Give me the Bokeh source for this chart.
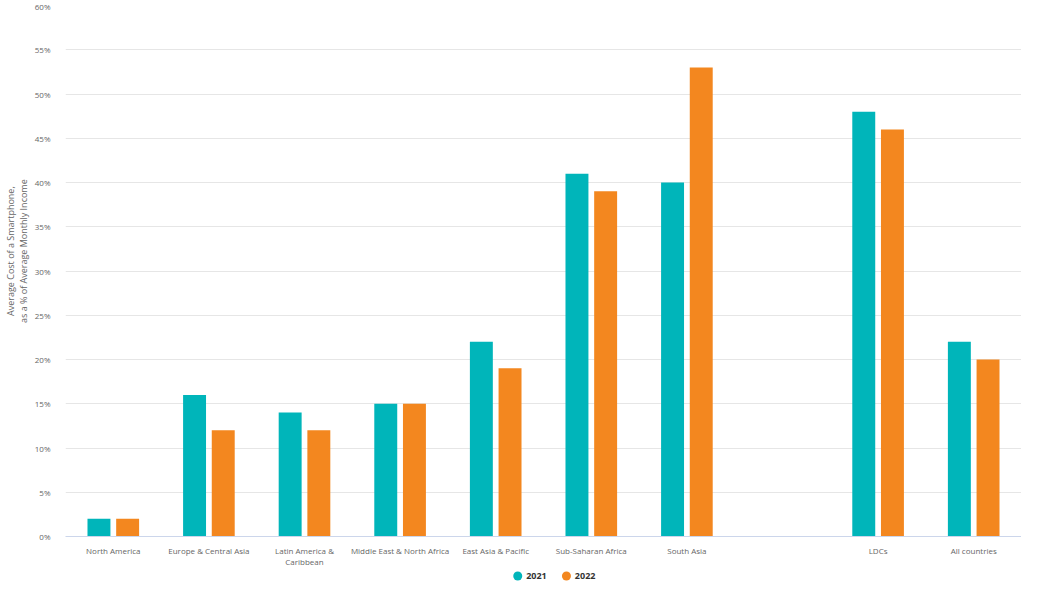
from bokeh.plotting import figure
from bokeh.layouts import column
from bokeh.models import (FactorRange, Range1d, ColumnDataSource, PrintfTickFormatter, FixedTicker)
from bokeh.core.properties import value
from bokeh.transform import dodge
from bokeh.embed import file_html
from bokeh.resources import INLINE

categories = ["North America", "Europe & Central Asia", "Latin America &\nCaribbean",
              "Middle East & North Africa", "East Asia & Pacific", "Sub-Saharan Africa",
              "South Asia", "LDCs", "All countries"]
axis_factors = categories[:7] + [" "] + categories[7:]
values_2021 = [2, 16, 14, 15, 22, 41, 40, 48, 22]
values_2022 = [2, 12, 12, 15, 19, 39, 53, 46, 20]
series_names = ["2021", "2022"]
y_ticks = list(range(0, 61, 5))
y_title_lines = ["Average Cost of a Smartphone,", "as a % of Average Monthly Income"]

TEAL = "#00b5ba"
ORANGE = "#f3871f"
FONT = "Open Sans"
W = 1021
PAD = "\u00a0" * 17  # lifts the rotated title above the frame centre, as in the original

source = ColumnDataSource(dict(cat=categories, v2021=values_2021, v2022=values_2022))

p = figure(width=W, height=569, x_range=FactorRange(*axis_factors),
           y_range=Range1d(0, 60), output_backend="svg", toolbar_location=None,
           min_border_left=60, min_border_right=0, min_border_top=5, min_border_bottom=28)

p.vbar(x=dodge("cat", -0.15, range=p.x_range), top="v2021", width=0.24,
       source=source, color=TEAL, line_color=None)
p.vbar(x=dodge("cat", 0.15, range=p.x_range), top="v2022", width=0.24,
       source=source, color=ORANGE, line_color=None)

p.outline_line_color = None
p.background_fill_color = "white"
p.border_fill_color = "white"

p.xgrid.grid_line_color = None
p.ygrid.grid_line_color = "#e6e6e6"
p.ygrid.grid_line_width = 1

p.yaxis.ticker = FixedTicker(ticks=y_ticks)
p.yaxis.formatter = PrintfTickFormatter(format="%d%%")
p.yaxis.axis_line_color = None
p.yaxis.major_tick_line_color = None
p.yaxis.minor_tick_line_color = None
p.yaxis.major_label_text_font = FONT
p.yaxis.major_label_text_font_size = "8px"
p.yaxis.major_label_text_color = "#666666"
p.yaxis.major_label_standoff = 9
p.yaxis.axis_label = "\n".join(PAD + s for s in y_title_lines)
p.yaxis.axis_label_text_font = FONT
p.yaxis.axis_label_text_font_size = "9px"
p.yaxis.axis_label_text_font_style = "normal"
p.yaxis.axis_label_text_color = "#666666"
p.yaxis.axis_label_text_line_height = 1.0
p.yaxis.axis_label_standoff = 2

p.xaxis.axis_line_color = "#ccd6eb"
p.xaxis.major_tick_line_color = None
p.xaxis.minor_tick_line_color = None
p.xaxis.major_label_text_font = FONT
p.xaxis.major_label_text_font_size = "8px"
p.xaxis.major_label_text_color = "#666666"
p.xaxis.major_label_text_line_height = 1.0
p.xaxis.major_label_standoff = 2

# legend strip drawn as its own small figure below the chart
leg_x = [483, 535]
leg = figure(width=W, height=13, x_range=Range1d(0, W), y_range=Range1d(0, 13),
             output_backend="svg", toolbar_location=None,
             min_border=0, min_border_left=0, min_border_right=0,
             min_border_top=0, min_border_bottom=0)
leg.axis.visible = False
leg.grid.visible = False
leg.outline_line_color = None
leg.scatter(x=leg_x, y=[6.5, 6.5], size=9, marker="circle",
            color=[TEAL, ORANGE], line_color=None)
leg.text(x=[x + 9 for x in leg_x], y=[6.5, 6.5], text=series_names,
         text_font=value(FONT), text_font_size="9px", text_font_style="bold",
         text_color="#333333", text_baseline="middle", text_align="left")

layout = column(p, leg, spacing=0)
open("out.html", "w").write(file_html(layout, INLINE))
